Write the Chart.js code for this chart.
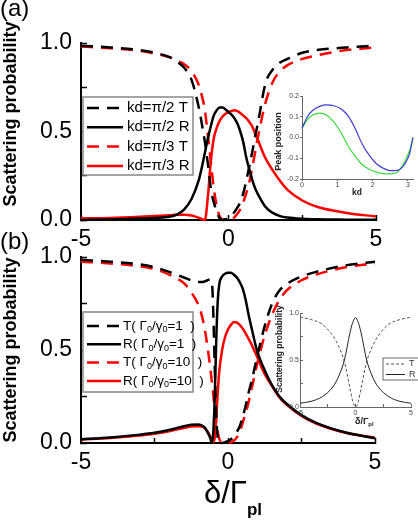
<!DOCTYPE html>
<html>
<head>
<meta charset="utf-8">
<script src="https://cdn.jsdelivr.net/npm/chart.js@4.4.1/dist/chart.umd.min.js"></script>
<style>
    html, body { margin: 0; padding: 0; background: #fff; }
    #wrap { position: relative; width: 418px; height: 520px; overflow: hidden; }
    #wrap canvas { position: absolute; left: 0; top: 0; }
</style>
</head>
<body>
<div id="wrap">
    <canvas id="mainA" width="418" height="520"></canvas>
    <canvas id="mainB" width="418" height="520"></canvas>
    <canvas id="insetA" width="418" height="520"></canvas>
    <canvas id="insetB" width="418" height="520"></canvas>
</div>
<script>
// ---- panel (a): detuning grid and curves
const detuningA = [-5, -4, -3, -2.5, -2, -1.75, -1.5, -1.25, -1, -0.9, -0.8, -0.7, -0.6, -0.5, -0.4, -0.3, -0.2, -0.1, 0,
    0.1, 0.2, 0.3, 0.4, 0.5, 0.6, 0.7, 0.8, 0.9, 1, 1.25, 1.5, 1.75, 2, 2.5, 3, 4, 5];
const halfPiT = [0.985, 0.975, 0.96, 0.945, 0.92, 0.895, 0.86, 0.79, 0.63, 0.54, 0.44, 0.32, 0.18, 0.10, 0.05, 0.01, 0.0, 0.005, 0.01,
    0.025, 0.045, 0.07, 0.10, 0.15, 0.22, 0.30, 0.38, 0.47, 0.55, 0.77, 0.85, 0.89, 0.91, 0.945, 0.96, 0.975, 0.985];
const halfPiR = [0.0, 0.003, 0.008, 0.012, 0.018, 0.03, 0.06, 0.12, 0.23, 0.30, 0.38, 0.46, 0.53, 0.59, 0.62, 0.635, 0.635, 0.625, 0.61,
    0.595, 0.575, 0.545, 0.50, 0.44, 0.355, 0.29, 0.23, 0.18, 0.145, 0.075, 0.04, 0.022, 0.014, 0.007, 0.004, 0.002, 0.001];
const thirdPiT = [0.98, 0.97, 0.955, 0.94, 0.92, 0.90, 0.88, 0.84, 0.76, 0.70, 0.62, 0.48, 0.33, 0.18, 0.08, 0.02, 0.003, 0.0, 0.0,
    0.005, 0.015, 0.035, 0.06, 0.10, 0.15, 0.21, 0.29, 0.38, 0.47, 0.66, 0.78, 0.84, 0.875, 0.91, 0.93, 0.96, 0.975];
const thirdPiR = [0.01, 0.012, 0.018, 0.022, 0.027, 0.03, 0.03, 0.025, 0.012, 0.005, 0.0, 0.13, 0.33, 0.46, 0.52, 0.56, 0.585, 0.60, 0.61,
    0.615, 0.62, 0.615, 0.605, 0.59, 0.575, 0.555, 0.53, 0.49, 0.45, 0.35, 0.28, 0.22, 0.17, 0.11, 0.075, 0.04, 0.02];

// ---- panel (b)
const detuningB = [-5, -4, -3, -2.5, -2, -1.75, -1.5, -1.25, -1, -0.9, -0.8, -0.7, -0.6, -0.55, -0.5, -0.45, -0.4, -0.35, -0.3,
    -0.2, -0.1, 0, 0.1, 0.2, 0.3, 0.4, 0.5, 0.6, 0.7, 0.8, 0.9, 1, 1.25, 1.5, 1.75, 2, 2.5, 3, 4, 5];
const ratio1T = [0.985, 0.975, 0.96, 0.945, 0.92, 0.905, 0.89, 0.875, 0.865, 0.865, 0.868, 0.875, 0.88, 0.87, 0.70, 0.40, 0.15, 0.03, 0.0,
    0.0, 0.005, 0.01, 0.02, 0.035, 0.06, 0.09, 0.14, 0.20, 0.27, 0.33, 0.40, 0.47, 0.63, 0.75, 0.82, 0.855, 0.895, 0.92, 0.955, 0.975];
const ratio1R = [0.02, 0.03, 0.045, 0.055, 0.07, 0.08, 0.09, 0.098, 0.10, 0.095, 0.085, 0.06, 0.025, 0.0, 0.06, 0.25, 0.55, 0.76, 0.85,
    0.895, 0.91, 0.915, 0.915, 0.905, 0.89, 0.865, 0.83, 0.77, 0.69, 0.62, 0.55, 0.49, 0.39, 0.31, 0.25, 0.21, 0.15, 0.108, 0.056, 0.026];
const ratio10T = [0.975, 0.965, 0.95, 0.935, 0.905, 0.885, 0.86, 0.81, 0.74, 0.69, 0.62, 0.52, 0.40, 0.33, 0.26, 0.18, 0.11, 0.06, 0.025,
    0.003, 0.0, 0.0, 0.004, 0.012, 0.03, 0.06, 0.11, 0.16, 0.22, 0.29, 0.36, 0.43, 0.58, 0.69, 0.77, 0.82, 0.875, 0.905, 0.945, 0.965];
const ratio10R = [0.018, 0.027, 0.04, 0.05, 0.063, 0.072, 0.08, 0.088, 0.09, 0.088, 0.08, 0.062, 0.035, 0.018, 0.003, 0.03, 0.13, 0.27, 0.38,
    0.50, 0.57, 0.61, 0.635, 0.65, 0.648, 0.635, 0.615, 0.59, 0.56, 0.53, 0.495, 0.46, 0.37, 0.305, 0.245, 0.205, 0.145, 0.105, 0.055, 0.028];

// ---- inset of (a): peak position vs kd
const kdValues = [0, 0.15, 0.3, 0.5, 0.7, 0.9, 1.1, 1.3, 1.5, 1.7, 1.9, 2.1, 2.3, 2.5, 2.7, 2.9, 3.05, 3.14];
const peakBlue = [0.044, 0.10, 0.13, 0.15, 0.157, 0.153, 0.138, 0.105, 0.045, -0.03, -0.085, -0.125, -0.148, -0.16, -0.158, -0.13, -0.075, 0.0];
const peakGreen = [0.044, 0.085, 0.108, 0.117, 0.107, 0.075, 0.025, -0.04, -0.09, -0.13, -0.153, -0.167, -0.174, -0.175, -0.167, -0.118, -0.06, 0.0];

// ---- inset of (b): single emitter
const detuningInset = [-5, -4, -3, -2, -1.5, -1, -0.5, -0.25, 0, 0.25, 0.5, 1, 1.5, 2, 3, 4, 5];
const insetR = [0.04, 0.06, 0.11, 0.22, 0.33, 0.5, 0.79, 0.90, 0.95, 0.90, 0.79, 0.5, 0.33, 0.22, 0.11, 0.06, 0.04];
const insetT = [0.955, 0.93, 0.88, 0.75, 0.64, 0.48, 0.2, 0.06, 0.0, 0.06, 0.2, 0.48, 0.64, 0.75, 0.88, 0.93, 0.955];

const FONT = "'Liberation Sans', Arial, sans-serif";
Chart.defaults.font.family = FONT;
Chart.defaults.color = '#000';

const pairs = (xs, ys) => xs.map((x, i) => ({ x: x, y: ys[i] }));

// text with _{sub} segments
function richText(ctx, str, x, y, o) {
    const parts = str.split(/_\{([^}]*)\}/);
    const big = (o.bold ? 'bold ' : '') + o.size + 'px ' + FONT;
    const small = (o.bold || o.subBold ? 'bold ' : '') + (o.subSize || o.size * 0.65) + 'px ' + FONT;
    let w = 0;
    parts.forEach((p, i) => { ctx.font = i % 2 ? small : big; w += ctx.measureText(p).width; });
    ctx.save();
    ctx.translate(x, y);
    if (o.rotate) ctx.rotate(o.rotate);
    ctx.fillStyle = o.color || '#000';
    ctx.textBaseline = o.baseline || 'middle';
    ctx.textAlign = 'left';
    let cx = o.align === 'center' ? -w / 2 : 0;
    parts.forEach((p, i) => {
        ctx.font = i % 2 ? small : big;
        ctx.fillText(p, cx, i % 2 ? (o.subDy || 0) : 0);
        cx += ctx.measureText(p).width;
    });
    ctx.restore();
}

const decor = {
    id: 'decor',
    afterDraw(chart, args, opts) {
        const ctx = chart.ctx;
        (opts.texts || []).forEach((t) => richText(ctx, t.text, t.x, t.y, t));
        const lg = opts.box;
        if (!lg) return;
        ctx.save();
        ctx.fillStyle = '#fff';
        ctx.fillRect(lg.x, lg.y, lg.w, lg.h);
        ctx.strokeStyle = lg.border;
        ctx.lineWidth = lg.borderWidth;
        ctx.strokeRect(lg.x, lg.y, lg.w, lg.h);
        chart.data.datasets.forEach((ds, i) => {
            const yy = lg.y + lg.first + i * lg.row;
            ctx.beginPath();
            ctx.setLineDash(ds.borderDash || []);
            ctx.strokeStyle = ds.borderColor;
            ctx.lineWidth = ds.borderWidth;
            ctx.moveTo(lg.lx1, yy);
            ctx.lineTo(lg.lx2, yy);
            ctx.stroke();
            ctx.setLineDash([]);
            richText(ctx, ds.label, lg.tx, yy, lg.font);
        });
        ctx.restore();
    },
};

function line(label, xs, ys, color, dashed, width) {
    return {
        label: label,
        data: pairs(xs, ys),
        borderColor: color,
        borderWidth: width,
        borderDash: dashed ? dashed : [],
        pointRadius: 0,
        cubicInterpolationMode: 'monotone',
        clip: 4,
    };
}

function mainScales() {
    return {
        x: {
            type: 'linear', min: -5, max: 5,
            afterFit: (s) => { s.height = 30; },
            border: { color: '#000', width: 2 },
            grid: { drawOnChartArea: false, tickLength: -5, color: '#000', tickWidth: 1.5 },
            ticks: {
                stepSize: 2.5, padding: 11, autoSkip: false, maxRotation: 0,
                font: { size: 23 }, color: '#000',
                callback: (v) => (v % 5 === 0 ? String(v) : ''),
            },
        },
        y: {
            min: 0, max: 1,
            afterFit: (s) => { s.width = 81; },
            border: { color: '#000', width: 2 },
            grid: { drawOnChartArea: false, tickLength: -6, color: '#000', tickWidth: 1.5 },
            ticks: {
                stepSize: 0.25, padding: 15, autoSkip: false,
                font: { size: 23 }, color: '#000',
                callback: (v) => (Math.round(v * 4) % 2 === 0 ? v.toFixed(1) : ''),
            },
        },
    };
}

const dash = [12, 8];

new Chart(document.getElementById('mainA'), {
    type: 'line',
    data: {
        datasets: [
            line('kd=π/2 T', detuningA, halfPiT, '#000', dash, 2.5),
            line('kd=π/2 R', detuningA, halfPiR, '#000', null, 2.5),
            line('kd=π/3 T', detuningA, thirdPiT, '#f00', dash, 2.5),
            line('kd=π/3 R', detuningA, thirdPiR, '#f00', null, 2.5),
        ],
    },
    options: {
        responsive: false, animation: false, devicePixelRatio: 1,
        layout: { padding: { left: 0, right: 42, top: 43, bottom: 270 } },
        scales: mainScales(),
        plugins: {
            legend: { display: false }, tooltip: { enabled: false },
            decor: {
                texts: [
                    { text: '(a)', x: 0, y: 9, size: 24 },
                    { text: 'Scattering probability', x: 11, y: 114, size: 18, bold: true, align: 'center', rotate: -Math.PI / 2 },
                ],
                box: {
                    x: 83, y: 97, w: 110, h: 78, border: '#888', borderWidth: 1.5,
                    first: 11, row: 19.3, lx1: 87, lx2: 123, tx: 127,
                    font: { size: 15 },
                },
            },
        },
    },
    plugins: [decor],
});

new Chart(document.getElementById('mainB'), {
    type: 'line',
    data: {
        datasets: [
            line('T( Γ_{0}/γ_{0}=1  )', detuningB, ratio1T, '#000', dash, 2.5),
            line('R( Γ_{0}/γ_{0}=1  )', detuningB, ratio1R, '#000', null, 2.5),
            line('T( Γ_{0}/γ_{0}=10  )', detuningB, ratio10T, '#f00', dash, 2.5),
            line('R( Γ_{0}/γ_{0}=10  )', detuningB, ratio10R, '#f00', null, 2.5),
        ],
    },
    options: {
        responsive: false, animation: false, devicePixelRatio: 1,
        layout: { padding: { left: 0, right: 43, top: 257, bottom: 47 } },
        scales: mainScales(),
        plugins: {
            legend: { display: false }, tooltip: { enabled: false },
            decor: {
                texts: [
                    { text: '(b)', x: 0, y: 242, size: 24 },
                    { text: 'Scattering probability', x: 11.5, y: 350, size: 18, bold: true, align: 'center', rotate: -Math.PI / 2 },
                    { text: 'δ/Γ_{pl}', x: 204, y: 503, size: 31, subSize: 17, subBold: true, subDy: 12, baseline: 'alphabetic' },
                ],
                box: {
                    x: 83, y: 312, w: 110, h: 80, border: '#888', borderWidth: 1.5,
                    first: 14, row: 18.3, lx1: 87, lx2: 121, tx: 123,
                    font: { size: 13.5, subSize: 9, subDy: 4 },
                },
            },
        },
    },
    plugins: [decor],
});

new Chart(document.getElementById('insetA'), {
    type: 'line',
    data: {
        datasets: [
            line('blue', kdValues, peakBlue, '#3c3cd2', null, 1.2),
            line('green', kdValues, peakGreen, '#3ed83e', null, 1.2),
        ],
    },
    options: {
        responsive: false, animation: false, devicePixelRatio: 1,
        layout: { padding: { left: 270, right: 5, top: 96, bottom: 321 } },
        scales: {
            x: {
                type: 'linear', min: 0, max: Math.PI,
                afterFit: (s) => { s.height = 20; },
                border: { color: '#666', width: 1 },
                grid: { drawOnChartArea: false, tickLength: 2, color: '#666' },
                ticks: { stepSize: 1, includeBounds: false, padding: 0, font: { size: 7 }, color: '#444', maxRotation: 0 },
            },
            y: {
                min: -0.2, max: 0.2,
                afterFit: (s) => { s.width = 32; },
                border: { color: '#666', width: 1 },
                grid: { drawOnChartArea: false, tickLength: 2, color: '#666' },
                ticks: {
                    stepSize: 0.1, padding: 1, font: { size: 7 }, color: '#444',
                    callback: (v) => (Math.abs(v) < 1e-9 ? '0.0' : v.toFixed(1)),
                },
            },
        },
        plugins: {
            legend: { display: false }, tooltip: { enabled: false },
            decor: {
                texts: [
                    { text: 'Peak position', x: 278.5, y: 141.5, size: 9, bold: true, align: 'center', rotate: -Math.PI / 2, color: '#222' },
                    { text: 'kd', x: 357, y: 193, size: 8.5, bold: true, align: 'center', color: '#222' },
                ],
            },
        },
    },
    plugins: [decor],
});

new Chart(document.getElementById('insetB'), {
    type: 'line',
    data: {
        datasets: [
            line('T', detuningInset, insetT, '#555', [3, 2], 1),
            line('R', detuningInset, insetR, '#222', null, 1),
        ],
    },
    options: {
        responsive: false, animation: false, devicePixelRatio: 1,
        layout: { padding: { left: 270, right: 3, top: 313, bottom: 91 } },
        scales: {
            x: {
                type: 'linear', min: -5, max: 5,
                afterFit: (s) => { s.height = 22; },
                border: { color: '#666', width: 1 },
                grid: { drawOnChartArea: false, tickLength: -3, color: '#666' },
                ticks: {
                    stepSize: 2.5, padding: 5, autoSkip: false, font: { size: 7 }, color: '#444', maxRotation: 0,
                    callback: (v) => (v % 5 === 0 ? String(v) : ''),
                },
            },
            y: {
                min: 0, max: 1,
                afterFit: (s) => { s.width = 30; },
                border: { color: '#666', width: 1 },
                grid: { drawOnChartArea: false, tickLength: -3, color: '#666' },
                ticks: {
                    stepSize: 0.25, padding: 4, autoSkip: false, font: { size: 7 }, color: '#444',
                    callback: (v) => (Math.round(v * 4) % 2 === 0 ? v.toFixed(1) : ''),
                },
            },
        },
        plugins: {
            legend: { display: false }, tooltip: { enabled: false },
            decor: {
                texts: [
                    { text: 'Scattering probability', x: 280, y: 349, size: 8.5, bold: true, align: 'center', rotate: -Math.PI / 2, color: '#222' },
                    { text: 'δ/Γ_{pl}', x: 355, y: 424, size: 9, bold: true, subSize: 6, subDy: 2, baseline: 'alphabetic', color: '#222' },
                ],
                box: {
                    x: 383, y: 358, w: 40, h: 22, border: '#666', borderWidth: 1,
                    first: 6, row: 10.5, lx1: 386, lx2: 405, tx: 409,
                    font: { size: 9, color: '#333' },
                },
            },
        },
    },
    plugins: [decor],
});
</script>
</body>
</html>
